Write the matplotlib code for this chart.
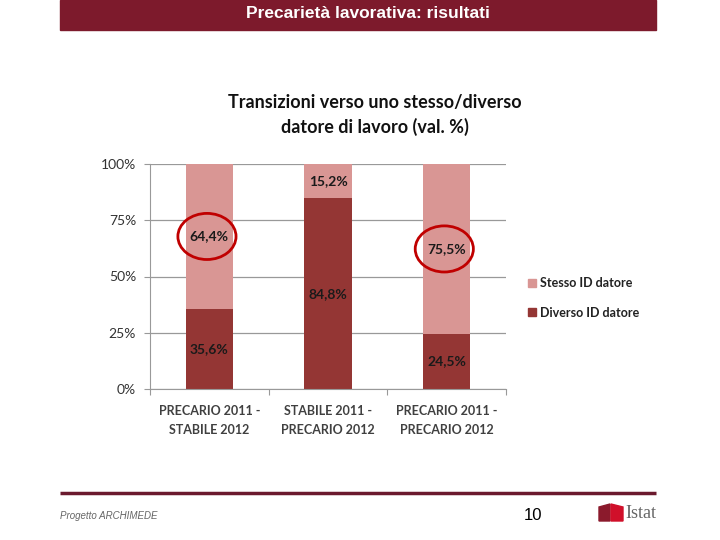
import matplotlib
matplotlib.use('Agg')
import matplotlib.pyplot as plt
from matplotlib.patches import Rectangle, Ellipse, Polygon
from matplotlib.lines import Line2D
import numpy as np

#--- data ---
categories = ['PRECARIO 2011 -\nSTABILE 2012',
              'STABILE 2011 -\nPRECARIO 2012',
              'PRECARIO 2011 -\nPRECARIO 2012']
diverso = [35.6, 84.8, 24.5]   # Diverso ID datore
stesso = [64.4, 15.2, 75.5]    # Stesso ID datore
yticks = [0, 25, 50, 75, 100]
highlight = [0, 2]             # circled labels (stesso)

dark = '#943634'
light = '#d99694'
maroon = '#7d1a2c'

fig = plt.figure(figsize=(7.2, 5.4), dpi=100)

#--- header band ---
fig.patches.append(Rectangle((60/720, 1-30/540), 596/720, 30/540,
                             transform=fig.transFigure, color=maroon, zorder=0))
fig.text(368/720, 1-14/540, 'Precarietà lavorativa: risultati', color='white',
         fontsize=12.5, fontweight='bold', family='Liberation Sans',
         ha='center', va='center')

#--- chart title ---
fig.text(375/720, 1-115/540, 'Transizioni verso uno stesso/diverso\ndatore di lavoro (val. %)',
         ha='center', va='center', fontsize=13, fontweight='bold', family='Lato',
         color='#111111', linespacing=1.5)

#--- chart ---
ax = fig.add_axes([150/720, 1-389/540, 356/720, 225/540])
x = np.arange(len(categories))
w = 0.40
ax.bar(x, diverso, w, color=dark, label='Diverso ID datore', zorder=2)
ax.bar(x, stesso, w, bottom=diverso, color=light, label='Stesso ID datore', zorder=2)

for i in range(len(x)):
    ax.text(x[i], diverso[i]/2, ('%.1f%%' % diverso[i]).replace('.', ','),
            ha='center', va='center', fontsize=10, fontweight='bold', family='Lato',
            color='#1a1a1a', zorder=3)
    ax.text(x[i], diverso[i] + stesso[i]/2, ('%.1f%%' % stesso[i]).replace('.', ','),
            ha='center', va='center', fontsize=10, fontweight='bold', family='Lato',
            color='#1a1a1a', zorder=3)

for i in highlight:
    yc = diverso[i] + stesso[i]/2
    ax.add_patch(Ellipse((x[i] - 0.02, yc), 0.49, 20.5, fill=False,
                         edgecolor='#c00000', linewidth=2, zorder=4, clip_on=False))

ax.set_xlim(-0.5, 2.5)
ax.set_ylim(0, 100)
ax.set_yticks(yticks)
ax.set_yticklabels(['%d%%' % v for v in yticks], family='Lato', fontsize=10, color='#333333')
ax.yaxis.grid(True, color='#999999', linewidth=0.9, zorder=0)
ax.tick_params(axis='y', length=4, color='#999999', pad=6)
ax.set_xticks([-0.5, 0.5, 1.5, 2.5])
ax.set_xticklabels([])
ax.tick_params(axis='x', length=4, color='#999999')
for i, c in enumerate(categories):
    ax.text(x[i], -7.0, c, ha='center', va='top', fontsize=9, fontweight='bold',
            family='Lato', color='#404040', linespacing=1.75)
for s in ['top', 'right']:
    ax.spines[s].set_visible(False)
for s in ['left', 'bottom']:
    ax.spines[s].set_color('#999999')

# legend
handles = [Rectangle((0, 0), 1, 1, color=light), Rectangle((0, 0), 1, 1, color=dark)]
leg = fig.legend(handles, ['Stesso ID datore', 'Diverso ID datore'],
                 loc='center left', bbox_to_anchor=(517/720, 1-298/540),
                 frameon=False, handlelength=0.6, handleheight=0.6, handletextpad=0.35,
                 labelspacing=1.4, prop={'family': 'Lato', 'weight': 'bold', 'size': 9})
for t in leg.get_texts():
    t.set_color('#222222')

#--- footer ---
fig.add_artist(Line2D([60/720, 656/720], [1-493/540, 1-493/540], color='#6b1a2e',
                      linewidth=2.5, solid_capstyle='butt', transform=fig.transFigure))
fig.text(60/720, 1-516/540, 'Progetto ARCHIMEDE', fontsize=7, style='italic',
         family='Liberation Sans', color='#666666', va='center')
fig.text(533/720, 1-516/540, '10', fontsize=12, family='Liberation Sans',
         color='black', ha='center', va='center')
# Istat logo
fig.patches.append(Polygon([(599/720, 1-507/540), (610/720, 1-504/540),
                            (610/720, 1-521/540), (599/720, 1-521/540)], closed=True,
                           transform=fig.transFigure, color='#8b1a2c'))
fig.patches.append(Polygon([(611/720, 1-504/540), (623/720, 1-507/540),
                            (623/720, 1-521/540), (611/720, 1-521/540)], closed=True,
                           transform=fig.transFigure, color='#d0102a'))
fig.text(625/720, 1-514/540, 'Istat', fontsize=13, family='Liberation Serif',
         color='#666666', va='center')

plt.savefig('out.png', dpi=100)
